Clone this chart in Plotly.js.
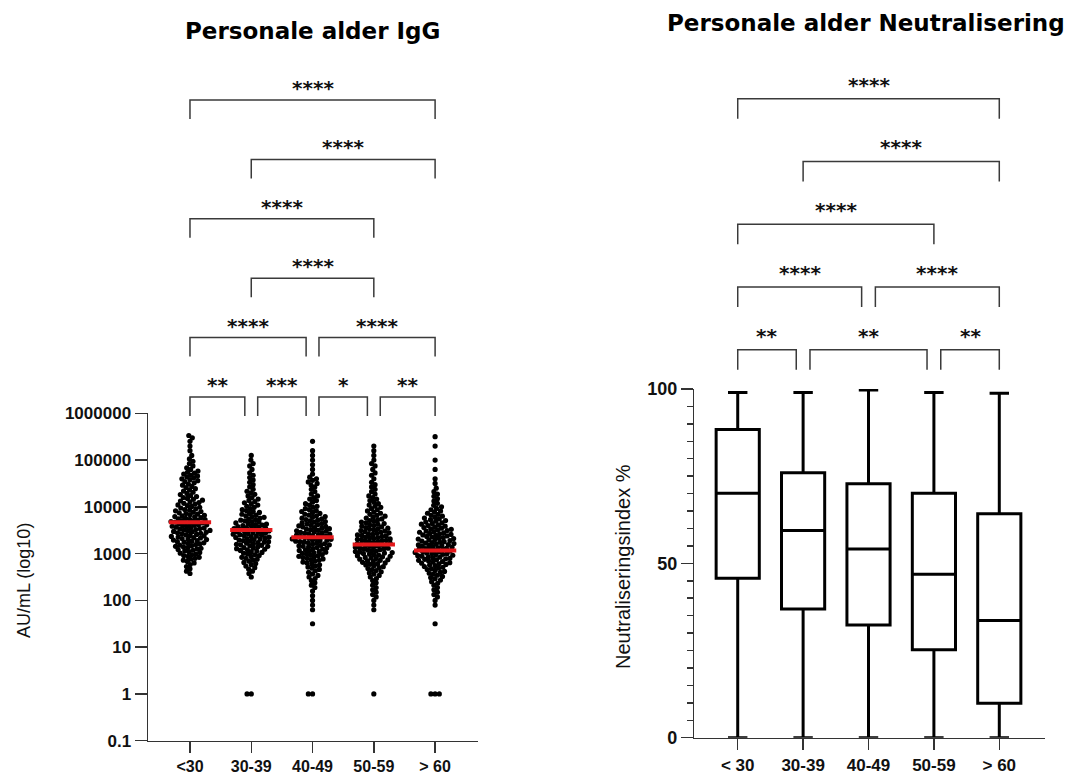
<!DOCTYPE html>
<html><head><meta charset="utf-8">
<script src="https://cdn.plot.ly/plotly-3.0.1.min.js"></script>
<style>html,body{margin:0;padding:0;background:#fff}#chart{width:1076px;height:776px}</style>
</head><body><div id="chart"></div>
<script>
// ---------------- DATA ----------------
const igCategories   = ['<30', '30-39', '40-49', '50-59', '> 60'];
const neutCategories = ['< 30', '30-39', '40-49', '50-59', '> 60'];

const binLog10 = [1.5,1.6,1.7,1.8,1.9,2.0,2.1,2.2,2.3,2.4,2.5,2.6,2.7,2.8,2.9,3.0,3.1,3.2,3.3,3.4,3.5,3.6,3.7,3.8,3.9,4.0,4.1,4.2,4.3,4.4,4.5,4.6,4.7,4.8,4.9,5.0,5.1,5.2,5.3,5.4,5.5];
const countUnder30 = [0,0,0,0,0,0,0,0,0,0,0,2,2,3,5,6,7,8,9,9,10,10,10,8,7,6,6,5,4,4,4,5,5,3,2,2,1,1,1,1,2];
const count30to39  = [0,0,0,0,0,0,0,0,0,0,1,2,3,4,5,6,8,9,9,10,10,9,7,6,5,4,4,3,3,2,2,2,2,1,2,1,1,0,0,0,0];
const count40to49  = [1,0,0,1,1,1,1,1,2,2,3,3,4,5,7,8,8,9,10,10,9,8,7,6,5,4,3,3,2,2,3,3,1,1,1,1,1,1,0,1,0];
const count50to59  = [0,0,0,1,1,1,2,2,2,2,3,4,5,7,8,9,10,10,10,9,8,7,6,5,4,4,3,3,2,2,2,1,2,1,2,1,1,1,1,0,0];
const countOver60  = [1,0,0,0,1,1,2,2,2,3,4,5,6,8,9,10,10,10,9,9,8,7,6,5,4,3,2,2,2,1,1,1,0,1,0,1,0,0,1,0,1];
// participants with value exactly 1 AU/mL
const countAtOne   = [0, 2, 2, 1, 3];
// red median lines (AU/mL)
const igMedian = [4700, 3200, 2250, 1570, 1160];

// Neutralisation index % box plots (min–max whiskers)
const neutMin    = [0, 0, 0, 0, 0];
const neutQ1     = [45.7, 36.9, 32.3, 25.2, 9.9];
const neutMedian = [70.1, 59.4, 54.1, 46.9, 33.6];
const neutQ3     = [88.4, 76.0, 72.8, 70.1, 64.2];
const neutMax    = [99.0, 99.0, 99.7, 99.0, 98.8];

// significance brackets: [from category, to category, label, level]
const igSignif = [[0,4,'****',0],[1,4,'****',1],[0,3,'****',2],[1,3,'****',3],[0,2,'****',4],[2,4,'****',4],
                  [0,1,'**',5],[1,2,'***',5],[2,3,'*',5],[3,4,'**',5]];
const neutSignif = [[0,4,'****',0],[1,4,'****',1],[0,3,'****',2],[0,2,'****',3],[2,4,'****',3],
                    [0,1,'**',4],[1,3,'**',4],[3,4,'**',4]];

// ---------------- LAYOUT GEOMETRY ----------------
const W = 1076, H = 776;
const L = {x0:148, x1:478, yTop:413.3, yBot:740.7, xr:[-0.685, 4.70], yr:[-1, 6]};
const R = {x0:694.3, x1:1045, yTop:389, yBot:737.7, xr:[-0.664, 4.699], yr:[0, 100]};
const pxPerX = (L.x1 - L.x0) / (L.xr[1] - L.xr[0]);
const pxPerLog = (L.yBot - L.yTop) / (L.yr[1] - L.yr[0]);
const DOT = 5.2, COLL = 4.2;
const py = v => 1 - v / H;

function groupLogs(counts, ones) {
  const out = [];
  for (let k = 0; k < ones; k++) out.push(0);
  counts.forEach((n, i) => { for (let k = 0; k < n; k++) out.push(binLog10[i] - 0.05 + (k + 0.5) / n * 0.1); });
  return out;
}
function swarm(logs) {
  const pts = logs.map(v => ({v, y: v * pxPerLog})).sort((a, b) => a.v - b.v);
  const placed = []; let flip = 1;
  pts.forEach(p => {
    const iv = [];
    placed.forEach(q => { const dy = Math.abs(q.y - p.y); if (dy < COLL) { const h = Math.sqrt(COLL*COLL - dy*dy); iv.push([q.x - h, q.x + h]); } });
    const cands = [0]; iv.forEach(([a, b]) => cands.push(a, b));
    let best = null;
    cands.forEach(c => {
      if (iv.some(([a, b]) => c > a + 1e-6 && c < b - 1e-6)) return;
      if (best === null || Math.abs(c) < Math.abs(best) - 1e-6 ||
          (Math.abs(Math.abs(c) - Math.abs(best)) < 1e-6 && c * flip > 0)) best = c;
    });
    flip = -flip; p.x = best; placed.push(p);
  });
  return placed;
}

const groups = [countUnder30, count30to39, count40to49, count50to59, countOver60];
const sx = [], sy = [];
groups.forEach((cnt, gi) => {
  swarm(groupLogs(cnt, countAtOne[gi])).forEach(p => { sx.push(gi + p.x / pxPerX); sy.push(Math.pow(10, p.v)); });
});
const mx = [], my = [];
igMedian.forEach((m, i) => { mx.push(i - 0.345, i + 0.345, null); my.push(m, m, null); });

const traces = [
  {type:'scatter', mode:'markers', x:sx, y:sy, xaxis:'x', yaxis:'y',
   marker:{color:'#000', size:DOT, line:{width:0}}, hoverinfo:'skip', showlegend:false},
  {type:'scatter', mode:'lines', x:mx, y:my, xaxis:'x', yaxis:'y',
   line:{color:'#e3191c', width:4}, hoverinfo:'skip', showlegend:false},
  {type:'box', x:[0,1,2,3,4], q1:neutQ1, median:neutMedian, q3:neutQ3, lowerfence:neutMin, upperfence:neutMax,
   xaxis:'x2', yaxis:'y2', width:0.66, whiskerwidth:0.45, boxpoints:false,
   line:{color:'#000', width:3}, fillcolor:'#fff', showlegend:false, hoverinfo:'skip'}
];

const shapes = [], annotations = [];
const INSET = 0.105;
function brackets(sig, xref, y0, step, leg, textOff) {
  sig.forEach(([a, b, lab, lev]) => {
    const same = sig.filter(s => s[3] === lev);
    const shared = x => same.filter(s => s[0] === x || s[1] === x).length > 1;
    const xa = a + (shared(a) ? INSET : 0), xb = b - (shared(b) ? INSET : 0);
    const yl = y0 + lev * step;
    shapes.push({type:'path', xref, yref:'paper', layer:'above',
      path:`M ${xa},${py(yl + leg)} L ${xa},${py(yl)} L ${xb},${py(yl)} L ${xb},${py(yl + leg)}`,
      line:{color:'#3a3a3a', width:1.5}});
    annotations.push({xref, yref:'paper', x:(xa + xb) / 2, y:py(yl - textOff), text:lab, showarrow:false,
      xanchor:'center', yanchor:'middle', font:{family:'DejaVu Sans', size:20, color:'#111', weight:'bold'}});
  });
}
brackets(igSignif, 'x', 100, 59.4, 19, 12);
brackets(neutSignif, 'x2', 98.7, 62.75, 20, 14);

annotations.push(
  {xref:'paper', yref:'paper', x:312.5/W, y:py(31), text:'Personale alder IgG', showarrow:false, xanchor:'center', yanchor:'middle',
   font:{family:'DejaVu Sans', size:23, color:'#000', weight:'bold'}},
  {xref:'paper', yref:'paper', x:866/W, y:py(22.5), text:'Personale alder Neutralisering', showarrow:false, xanchor:'center', yanchor:'middle',
   font:{family:'DejaVu Sans', size:23, color:'#000', weight:'bold'}},
  {xref:'paper', yref:'paper', x:24/W, y:py(581), text:'AU/mL (log10)', textangle:-90, showarrow:false, xanchor:'center', yanchor:'middle',
   font:{family:'Liberation Sans', size:18, color:'#111'}},
  {xref:'paper', yref:'paper', x:623/W, y:py(567), text:'Neutraliseringsindex %', textangle:-90, showarrow:false, xanchor:'center', yanchor:'middle',
   font:{family:'Liberation Sans', size:20, color:'#111'}}
);

const axisCommon = {showline:true, linecolor:'#333', linewidth:1.5, ticks:'outside', ticklen:11, tickwidth:1.5,
  tickcolor:'#333', showgrid:false, zeroline:false, fixedrange:true};
const layout = {
  width:W, height:H, margin:{l:0, r:0, t:0, b:0}, paper_bgcolor:'#fff', plot_bgcolor:'rgba(0,0,0,0)',
  showlegend:false, shapes, annotations,
  xaxis:Object.assign({}, axisCommon, {domain:[L.x0/W, L.x1/W], range:L.xr, anchor:'y', tickmode:'array',
    tickvals:[0,1,2,3,4], ticktext:igCategories, tickfont:{family:'Liberation Sans', size:16, color:'#111', weight:'bold'}}),
  yaxis:Object.assign({}, axisCommon, {domain:[py(L.yBot), py(L.yTop)], type:'log', range:L.yr, anchor:'x', tickmode:'array',
    ticklen:12, tickvals:[0.1,1,10,100,1000,10000,100000,1000000], ticktext:['0.1','1','10','100','1000','10000','100000','1000000'],
    tickfont:{family:'Liberation Sans', size:17, color:'#111', weight:'bold'}}),
  xaxis2:Object.assign({}, axisCommon, {domain:[R.x0/W, R.x1/W], range:R.xr, anchor:'y2', tickmode:'array',
    tickvals:[0,1,2,3,4], ticktext:neutCategories, tickfont:{family:'Liberation Sans', size:17, color:'#111', weight:'bold'}}),
  yaxis2:Object.assign({}, axisCommon, {domain:[py(R.yBot), py(R.yTop)], range:R.yr, anchor:'x2', tickmode:'array',
    ticklen:12, tickvals:[0,50,100], tickfont:{family:'Liberation Sans', size:18, color:'#111', weight:'bold'},
    minor:{ticks:'outside', ticklen:6, tickwidth:1.5, tickcolor:'#333', dtick:5, tick0:0, showgrid:false}})
};
Plotly.newPlot('chart', traces, layout, {displayModeBar:false, staticPlot:true});
</script></body></html>
